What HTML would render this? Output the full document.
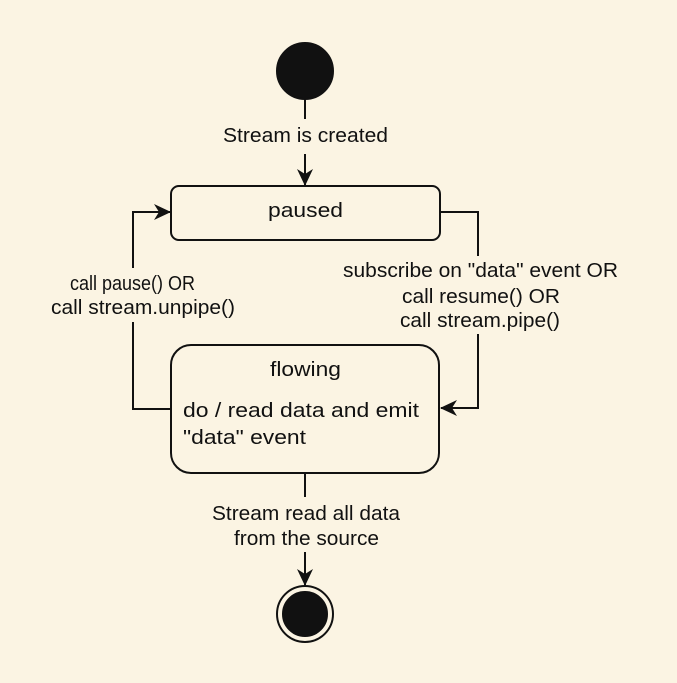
<!DOCTYPE html>
<html><head><meta charset="utf-8"><style>
html,body{margin:0;padding:0;background:#fbf4e3;}
svg{display:block}
text{font-family:"Liberation Sans",Arial,sans-serif;font-size:20px;fill:#111;}
</style></head><body>
<svg width="677" height="683" viewBox="0 0 677 683" xmlns="http://www.w3.org/2000/svg">
<rect width="677" height="683" fill="#fbf4e3"/>
<defs><marker id="a" markerWidth="18" markerHeight="18" refX="16" refY="8" orient="auto" markerUnits="userSpaceOnUse"><path d="M0,0 L17,8 L0,16 L5,8 Z" fill="#111"/></marker></defs>
<g stroke="#111" stroke-width="2" fill="none">
<circle cx="305" cy="71" r="28" fill="#111"/>
<line x1="305" y1="99" x2="305" y2="119"/>
<line x1="305" y1="154" x2="305" y2="185" marker-end="url(#a)"/>
<rect x="171" y="186" width="269" height="54" rx="8"/>
<rect x="171" y="345" width="268" height="128" rx="20"/>
<polyline points="171,409 133,409 133,322"/>
<polyline points="133,268 133,212 170,212" marker-end="url(#a)"/>
<polyline points="440,212 478,212 478,256"/>
<polyline points="478,334 478,408 441,408" marker-end="url(#a)"/>
<line x1="305" y1="473" x2="305" y2="497"/>
<line x1="305" y1="552" x2="305" y2="585" marker-end="url(#a)"/>
<circle cx="305" cy="614" r="28" fill="#fbf4e3"/>
<circle cx="305" cy="614" r="22" fill="#111"/>
</g>
<text x="223" y="142" textLength="165" lengthAdjust="spacingAndGlyphs">Stream is created</text>
<text x="268" y="217" textLength="75" lengthAdjust="spacingAndGlyphs">paused</text>
<text x="70" y="290" textLength="125" lengthAdjust="spacingAndGlyphs">call pause() OR</text>
<text x="51" y="314" textLength="184" lengthAdjust="spacingAndGlyphs">call stream.unpipe()</text>
<text x="343" y="277" textLength="275" lengthAdjust="spacingAndGlyphs">subscribe on "data" event OR</text>
<text x="402" y="303" textLength="158" lengthAdjust="spacingAndGlyphs">call resume() OR</text>
<text x="400" y="327" textLength="160" lengthAdjust="spacingAndGlyphs">call stream.pipe()</text>
<text x="270" y="376" textLength="71" lengthAdjust="spacingAndGlyphs">flowing</text>
<text x="183" y="417" textLength="236" lengthAdjust="spacingAndGlyphs">do / read data and emit</text>
<text x="183" y="444" textLength="123" lengthAdjust="spacingAndGlyphs">"data" event</text>
<text x="212" y="520" textLength="188" lengthAdjust="spacingAndGlyphs">Stream read all data</text>
<text x="234" y="545" textLength="145" lengthAdjust="spacingAndGlyphs">from the source</text>
</svg>
</body></html>
